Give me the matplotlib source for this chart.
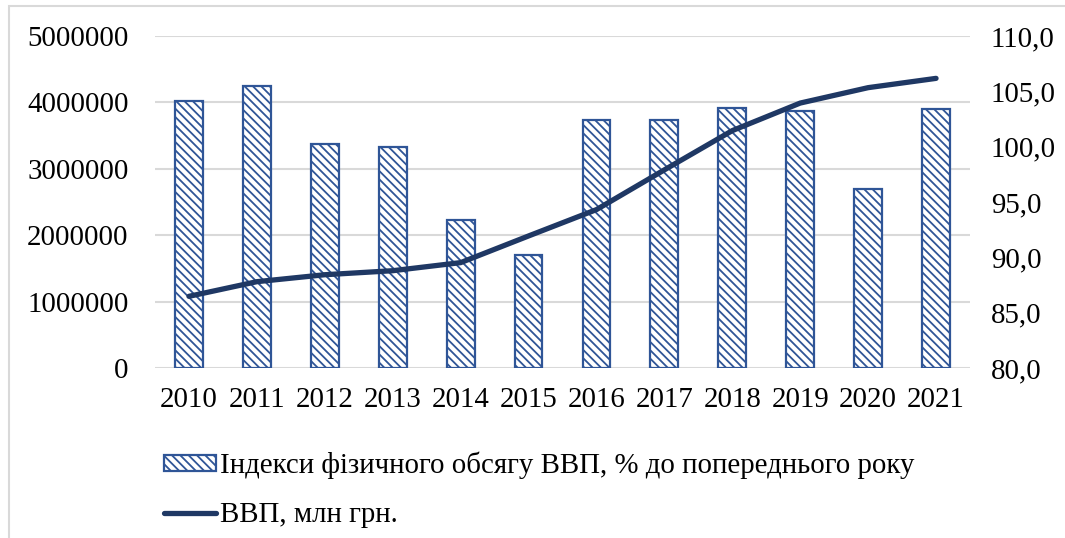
import matplotlib
matplotlib.use('Agg')
import matplotlib.pyplot as plt
from matplotlib.patches import Rectangle
import numpy as np

plt.rcParams['font.family'] = ['Liberation Serif', 'DejaVu Serif']
plt.rcParams['font.size'] = 20.8
plt.rcParams['hatch.color'] = '#5B82C8'
plt.rcParams['hatch.linewidth'] = 1.3

# --- data ---
years = ['2010', '2011', '2012', '2013', '2014', '2015',
         '2016', '2017', '2018', '2019', '2020', '2021']
index_vals = [104.1, 105.5, 100.2, 100.0, 93.4, 90.2,
              102.4, 102.4, 103.5, 103.2, 96.2, 103.4]
gdp_vals = [1079346, 1299991, 1404669, 1465198, 1586915, 1988544,
            2385367, 2983882, 3575000, 3990000, 4222026, 4362000]
bar_label = 'Індекси фізичного обсягу ВВП, % до попереднього року'
line_label = 'ВВП, млн грн.'

fig = plt.figure(figsize=(10.65, 5.38), dpi=100)
ax = fig.add_axes([155/1065, 1-368/538, 815/1065, 332/538])
ax2 = ax.twinx()

x = np.arange(len(years))

# bars on the right axis, line on the left axis
ax2.bar(x, np.array(index_vals) - 80, bottom=80, width=0.41,
        facecolor='white', edgecolor='#2F5597', linewidth=1.6,
        hatch='\\\\\\\\', label=bar_label, zorder=2)
ax.plot(x, gdp_vals, color='#1F3864', linewidth=3.8,
        solid_capstyle='round', label=line_label, zorder=5)

ax.set_zorder(ax2.get_zorder() + 1)
ax.patch.set_visible(False)

ax.set_ylim(0, 5000000)
ax.set_yticks(range(0, 5000001, 1000000))
ax.set_yticklabels([str(v) for v in range(0, 5000001, 1000000)])
ax2.set_ylim(80, 110)
ax2.set_yticks(range(80, 111, 5))
ax2.set_yticklabels([f'{v},0' for v in range(80, 111, 5)])
ax.set_xlim(-0.5, len(years) - 0.5)
ax.set_xticks(x)
ax.set_xticklabels(years)

for a in (ax, ax2):
    for s in a.spines.values():
        s.set_visible(False)
    a.tick_params(length=0)
ax.tick_params(axis='y', pad=19)
ax2.tick_params(axis='y', pad=15)
ax.tick_params(axis='x', pad=14)

for v in range(0, 5000001, 1000000):
    ax2.axhline(80 + v / 5000000 * 30, color='#D9D9D9', linewidth=1.5, zorder=0)

h1, l1 = ax2.get_legend_handles_labels()
h2, l2 = ax.get_legend_handles_labels()
fig.legend(h1 + h2, l1 + l2, loc='upper left',
           bbox_to_anchor=(152/1065, 1-440/538), frameon=False,
           handlelength=1.8, handleheight=0.5, handletextpad=0.15,
           labelspacing=0.8, borderaxespad=0)

# outer chart border (partially visible)
fig.patches.append(Rectangle((9/1065, -0.1), 1.2, 1.1 - 6/538,
                             transform=fig.transFigure, fill=False,
                             edgecolor='#D9D9D9', linewidth=1.5))

fig.savefig('out.png', dpi=100)
